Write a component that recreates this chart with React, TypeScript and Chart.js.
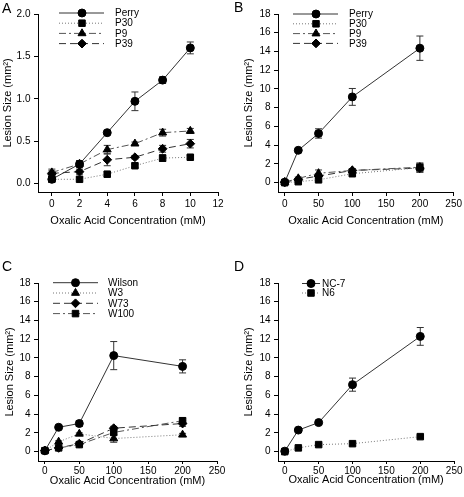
import { useEffect, useRef } from 'react';
import { Chart, registerables } from 'chart.js';

Chart.register(...registerables);

// ---------- data ----------
const xA = [0, 2, 4, 6, 8, 10];
const perryA = [0.05, 0.23, 0.6, 0.97, 1.22, 1.6];
const perryAErr = [0.02, 0.04, 0.02, 0.11, 0.04, 0.07];
const p30A = [0.05, 0.05, 0.11, 0.21, 0.3, 0.31];
const p30AErr = [0.01, 0.02, 0.03, 0.02, 0.04, 0.02];
const p9A = [0.13, 0.23, 0.4, 0.47, 0.6, 0.62];
const p9AErr = [0.04, 0.04, 0.05, 0.02, 0.04, 0.03];
const p39A = [0.12, 0.14, 0.28, 0.31, 0.41, 0.47];
const p39AErr = [0.03, 0.03, 0.07, 0.02, 0.04, 0.05];

const xConc = [0, 20, 50, 100, 200];
const perryB = [0.05, 3.45, 5.25, 9.15, 14.35];
const perryBErr = [0.1, 0.15, 0.5, 0.9, 1.3];
const p30B = [0.0, 0.1, 0.3, 0.95, 1.6];
const p30BErr = [0.05, 0.1, 0.15, 0.15, 0.5];
const p9B = [0.05, 0.45, 1.0, 1.3, 1.65];
const p9BErr = [0.05, 0.15, 0.35, 0.2, 0.4];
const p39B = [0.05, 0.35, 0.7, 1.3, 1.55];
const p39BErr = [0.05, 0.1, 0.2, 0.15, 0.4];

const wilsonC = [0.1, 2.6, 3.0, 10.25, 9.1];
const wilsonCErr = [0.05, 0.15, 0.3, 1.5, 0.7];
const w3C = [0.1, 1.05, 1.9, 1.4, 1.8];
const w3CErr = [0.05, 0.1, 0.1, 0.4, 0.15];
const w73C = [0.1, 0.4, 0.85, 2.5, 3.0];
const w73CErr = [0.05, 0.1, 0.15, 0.2, 0.3];
const w100C = [0.1, 0.4, 0.75, 2.05, 3.3];
const w100CErr = [0.05, 0.1, 0.1, 0.3, 0.3];

const nc7D = [0.05, 2.3, 3.1, 7.15, 12.3];
const nc7DErr = [0.05, 0.1, 0.15, 0.7, 0.95];
const n6D = [0.0, 0.4, 0.75, 0.85, 1.6];
const n6DErr = [0.05, 0.05, 0.1, 0.15, 0.15];

const xTicksA = [0, 2, 4, 6, 8, 10, 12];
const yTicksA = [0, 0.5, 1.0, 1.5, 2.0];
const xTicksConc = [0, 50, 100, 150, 200, 250];
const yTicksSize = [0, 2, 4, 6, 8, 10, 12, 14, 16, 18];

const X_TITLE = 'Oxalic Acid Concentration (mM)';
const Y_TITLE = 'Lesion Size (mm²)';

// ---------- styles ----------
const NARROW = '"Liberation Sans Narrow", "Liberation Sans", Arial, sans-serif';
const REG = '"Liberation Sans", Arial, sans-serif';

const LINE_STYLES: Record<string, { dash: number[]; color: string; width: number }> = {
  solid: { dash: [], color: '#333', width: 1 },
  dotted: { dash: [1, 2], color: '#777', width: 1 },
  dashdot: { dash: [7, 3, 2, 3], color: '#555', width: 1 },
  dash: { dash: [7, 4], color: '#333', width: 1 },
};
const MARKER_R: Record<string, number> = { circle: 4, rect: 4.6, triangle: 4.6, rectRot: 4.4 };

type Series = { label: string; x: number[]; y: number[]; err: number[]; marker: string; style: string };
type Panel = {
  letter: string; letterY: number;
  left: number; top: number; w: number; h: number;
  xMin: number; xMax: number; xTicks: number[];
  yMin: number; yMax: number; yTicks: number[]; decimals: number;
  area: { left: number; right: number; top: number; bottom: number };
  yTitleX: number; xTitleY: number; xTickLen: number; xTickPad: number;
  legend: { x0: number; x1: number; mx: number; tx: number; y0: number; dy: number };
  series: Series[];
};

const panels: Panel[] = [
  {
    letter: 'A', letterY: 13, left: 0, top: 0, w: 232, h: 248,
    xMin: -1, xMax: 12, xTicks: xTicksA, yMin: -0.1, yMax: 2.0, yTicks: yTicksA, decimals: 1,
    area: { left: 38, right: 218, top: 14, bottom: 192 },
    yTitleX: 7.5, xTitleY: 221, xTickLen: 4, xTickPad: 2,
    legend: { x0: 59, x1: 104, mx: 82, tx: 115, y0: 13, dy: 10.2 },
    series: [
      { label: 'Perry', x: xA, y: perryA, err: perryAErr, marker: 'circle', style: 'solid' },
      { label: 'P30', x: xA, y: p30A, err: p30AErr, marker: 'rect', style: 'dotted' },
      { label: 'P9', x: xA, y: p9A, err: p9AErr, marker: 'triangle', style: 'dashdot' },
      { label: 'P39', x: xA, y: p39A, err: p39AErr, marker: 'rectRot', style: 'dash' },
    ],
  },
  {
    letter: 'B', letterY: 12, left: 232, top: 0, w: 232, h: 248,
    xMin: -10, xMax: 250, xTicks: xTicksConc, yMin: -1, yMax: 18, yTicks: yTicksSize, decimals: 0,
    area: { left: 46, right: 224, top: 14, bottom: 192 },
    yTitleX: 17, xTitleY: 221, xTickLen: 4, xTickPad: 2,
    legend: { x0: 61, x1: 106, mx: 84, tx: 117, y0: 14, dy: 9.8 },
    series: [
      { label: 'Perry', x: xConc, y: perryB, err: perryBErr, marker: 'circle', style: 'solid' },
      { label: 'P30', x: xConc, y: p30B, err: p30BErr, marker: 'rect', style: 'dotted' },
      { label: 'P9', x: xConc, y: p9B, err: p9BErr, marker: 'triangle', style: 'dashdot' },
      { label: 'P39', x: xConc, y: p39B, err: p39BErr, marker: 'rectRot', style: 'dash' },
    ],
  },
  {
    letter: 'C', letterY: 23, left: 0, top: 248, w: 232, h: 249,
    xMin: -10, xMax: 250, xTicks: xTicksConc, yMin: -1, yMax: 18, yTicks: yTicksSize, decimals: 0,
    area: { left: 38, right: 217, top: 35, bottom: 213 },
    yTitleX: 10, xTitleY: 232.5, xTickLen: 3, xTickPad: 1.5,
    legend: { x0: 53, x1: 98, mx: 75.5, tx: 108, y0: 34.7, dy: 10.3 },
    series: [
      { label: 'Wilson', x: xConc, y: wilsonC, err: wilsonCErr, marker: 'circle', style: 'solid' },
      { label: 'W3', x: xConc, y: w3C, err: w3CErr, marker: 'triangle', style: 'dotted' },
      { label: 'W73', x: xConc, y: w73C, err: w73CErr, marker: 'rectRot', style: 'dash' },
      { label: 'W100', x: xConc, y: w100C, err: w100CErr, marker: 'rect', style: 'dashdot' },
    ],
  },
  {
    letter: 'D', letterY: 23, left: 232, top: 248, w: 232, h: 249,
    xMin: -10, xMax: 250, xTicks: xTicksConc, yMin: -1, yMax: 18, yTicks: yTicksSize, decimals: 0,
    area: { left: 46, right: 224, top: 35, bottom: 213 },
    yTitleX: 17, xTitleY: 232, xTickLen: 3, xTickPad: 1.5,
    legend: { x0: 70, x1: 88, mx: 79, tx: 90, y0: 35.5, dy: 9.5 },
    series: [
      { label: 'NC-7', x: xConc, y: nc7D, err: nc7DErr, marker: 'circle', style: 'solid' },
      { label: 'N6', x: xConc, y: n6D, err: n6DErr, marker: 'rect', style: 'dotted' },
    ],
  },
];

function drawMarker(ctx: CanvasRenderingContext2D, shape: string, x: number, y: number, r: number) {
  ctx.beginPath();
  if (shape === 'circle') {
    ctx.arc(x, y, r, 0, Math.PI * 2);
  } else if (shape === 'rect') {
    const s = r * Math.SQRT1_2;
    ctx.rect(x - s, y - s, 2 * s, 2 * s);
  } else if (shape === 'triangle') {
    ctx.moveTo(x, y - r);
    ctx.lineTo(x + 0.866 * r, y + 0.5 * r);
    ctx.lineTo(x - 0.866 * r, y + 0.5 * r);
    ctx.closePath();
  } else {
    ctx.moveTo(x - r, y);
    ctx.lineTo(x, y - r);
    ctx.lineTo(x + r, y);
    ctx.lineTo(x, y + r);
    ctx.closePath();
  }
  ctx.fill();
  ctx.stroke();
}

function PanelChart({ p }: { p: Panel }) {
  const ref = useRef<HTMLCanvasElement | null>(null);
  useEffect(() => {
    if (!ref.current) return;
    const yFont = 11;
    const xFont = 11;
    const overlay = {
      id: 'overlay' + p.letter,
      beforeDatasetsDraw(chart: any) {
        const ctx = chart.ctx as CanvasRenderingContext2D;
        const xs = chart.scales.x;
        const ys = chart.scales.y;
        ctx.save();
        ctx.strokeStyle = '#333';
        ctx.lineWidth = 1;
        ctx.setLineDash([]);
        p.series.forEach((s) => {
          s.x.forEach((xv, i) => {
            const e = s.err[i];
            if (!e) return;
            const px = xs.getPixelForValue(xv);
            const top = ys.getPixelForValue(s.y[i] + e);
            const bot = ys.getPixelForValue(s.y[i] - e);
            const cw = 3.5;
            ctx.beginPath();
            ctx.moveTo(px, top);
            ctx.lineTo(px, bot);
            ctx.moveTo(px - cw, top);
            ctx.lineTo(px + cw, top);
            ctx.moveTo(px - cw, bot);
            ctx.lineTo(px + cw, bot);
            ctx.stroke();
          });
        });
        ctx.restore();
      },
      afterDraw(chart: any) {
        const ctx = chart.ctx as CanvasRenderingContext2D;
        ctx.save();
        // panel letter
        ctx.fillStyle = '#000';
        ctx.font = '14px ' + REG;
        ctx.textAlign = 'left';
        ctx.textBaseline = 'alphabetic';
        ctx.fillText(p.letter, 2, p.letterY);
        // legend
        const L = p.legend;
        p.series.forEach((s, i) => {
          const y = L.y0 + i * L.dy;
          const st = LINE_STYLES[s.style];
          ctx.strokeStyle = st.color;
          ctx.lineWidth = st.width;
          ctx.setLineDash(st.dash);
          ctx.beginPath();
          ctx.moveTo(L.x0, y);
          ctx.lineTo(L.x1, y);
          ctx.stroke();
          ctx.setLineDash([]);
          ctx.fillStyle = '#000';
          ctx.strokeStyle = '#000';
          drawMarker(ctx, s.marker, L.mx, y, MARKER_R[s.marker]);
          ctx.font = '10px ' + NARROW;
          ctx.textBaseline = 'middle';
          ctx.fillText(s.label, L.tx, y + 0.5);
        });
        ctx.restore();
      },
    };

    const chart = new Chart(ref.current, {
      type: 'line',
      data: {
        datasets: p.series.map((s) => {
          const st = LINE_STYLES[s.style];
          return {
            label: s.label,
            data: s.x.map((xv, i) => ({ x: xv, y: s.y[i] })),
            borderColor: st.color,
            borderDash: st.dash,
            borderWidth: st.width,
            pointStyle: s.marker,
            pointRadius: MARKER_R[s.marker],
            pointBackgroundColor: '#000',
            pointBorderColor: '#000',
            pointBorderWidth: 1,
            fill: false,
            tension: 0,
            clip: false,
          } as any;
        }),
      },
      options: {
        responsive: false,
        animation: false,
        events: [],
        layout: {
          padding: { left: 0, top: p.area.top, right: p.w - p.area.right, bottom: 0 },
        },
        plugins: { legend: { display: false }, tooltip: { enabled: false }, title: { display: false } },
        scales: {
          x: {
            type: 'linear',
            min: p.xMin,
            max: p.xMax,
            afterFit: (s: any) => { s.height = p.h - p.area.bottom; },
            afterBuildTicks: (s: any) => { s.ticks = p.xTicks.map((v) => ({ value: v })); },
            grid: { display: true, drawOnChartArea: false, drawTicks: true, tickLength: p.xTickLen, color: '#000' },
            border: { display: true, color: '#000', width: 1 },
            ticks: {
              padding: p.xTickPad,
              color: '#000',
              font: { family: NARROW, size: 10 },
              maxRotation: 0,
              autoSkip: false,
              callback: (v: any) => String(v),
            },
            title: {
              display: true,
              text: X_TITLE,
              color: '#000',
              font: { family: NARROW, size: xFont, lineHeight: 1.2 },
              padding: { top: 0, bottom: p.h - p.xTitleY - (xFont * 1.2) / 2 },
            },
          },
          y: {
            type: 'linear',
            min: p.yMin,
            max: p.yMax,
            afterFit: (s: any) => { s.width = p.area.left; },
            afterBuildTicks: (s: any) => { s.ticks = p.yTicks.map((v) => ({ value: v })); },
            grid: { display: true, drawOnChartArea: false, drawTicks: true, tickLength: 4, color: '#000' },
            border: { display: true, color: '#000', width: 1 },
            ticks: {
              padding: 3.5,
              color: '#000',
              font: { family: NARROW, size: 10 },
              autoSkip: false,
              callback: (v: any) => Number(v).toFixed(p.decimals),
            },
            title: {
              display: true,
              text: Y_TITLE,
              color: '#000',
              font: { family: REG, size: yFont, lineHeight: 1.2 },
              padding: { top: p.yTitleX - (yFont * 1.2) / 2, bottom: 0 },
            },
          },
        },
      } as any,
      plugins: [overlay as any],
    });
    return () => chart.destroy();
  }, [p]);
  return (
    <canvas
      ref={ref}
      width={p.w}
      height={p.h}
      style={{ position: 'absolute', left: p.left, top: p.top, width: p.w, height: p.h, display: 'block' }}
    />
  );
}

export default function App() {
  return (
    <div style={{ position: 'absolute', left: 0, top: 0, width: 464, height: 497, background: '#fff', overflow: 'hidden' }}>
      {panels.map((p) => (
        <PanelChart key={p.letter} p={p} />
      ))}
    </div>
  );
}
